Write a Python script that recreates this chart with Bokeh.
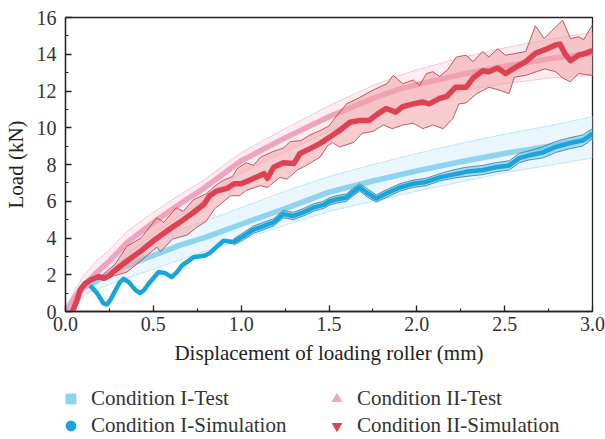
from bokeh.plotting import figure
from bokeh.layouts import column
from bokeh.models import Range1d, SingleIntervalTicker, Legend, LegendItem, NumeralTickFormatter, ColumnDataSource
from bokeh.embed import file_html
from bokeh.resources import INLINE

# ---------------- data ----------------
# Condition I - Test (mean curve and band)
test1_x = [0, 0.05, 0.1, 0.2, 0.35, 0.5, 0.65, 0.8, 1.0, 1.25, 1.5, 1.75, 2.0, 2.25, 2.5, 2.75, 3.0]
test1_y = [0, 0.7, 1.25, 1.8, 2.5, 3.05, 3.6, 4.05, 4.75, 5.6, 6.5, 7.1, 7.65, 8.15, 8.6, 9.0, 9.45]
test1_hi = [0, 0.9, 1.6, 2.5, 3.3, 3.9, 4.45, 4.95, 5.65, 6.55, 7.35, 8.0, 8.6, 9.15, 9.65, 10.1, 10.6]
test1_lo = [0, 0.5, 0.9, 1.3, 1.8, 2.3, 2.8, 3.3, 3.9, 4.7, 5.45, 6.0, 6.55, 7.05, 7.55, 7.95, 8.35]

# Condition II - Test
test2_x = [0, 0.05, 0.1, 0.17, 0.25, 0.35, 0.5, 0.65, 0.78, 1.0, 1.25, 1.5, 1.75, 1.9, 2.0, 2.25, 2.5, 2.75, 3.0]
test2_y = [0, 0.75, 1.35, 2.05, 2.75, 3.75, 4.85, 5.85, 6.65, 8.2, 9.45, 10.6, 11.6, 12.1, 12.35, 12.9, 13.35, 13.75, 14.05]
test2_hi = [0, 1.1, 1.9, 2.7, 3.35, 4.35, 5.4, 6.35, 7.1, 8.65, 9.95, 11.2, 12.3, 12.85, 13.15, 13.8, 14.35, 14.8, 15.2]
test2_lo = [0, 0.4, 0.8, 1.4, 2.1, 3.1, 4.2, 5.2, 6.0, 7.55, 8.7, 9.8, 10.7, 11.2, 11.5, 12.0, 12.4, 12.7, 12.85]

# Condition I - Simulation
sim1_x = [0.14, 0.18, 0.215, 0.236, 0.26, 0.284, 0.31, 0.331, 0.36, 0.4, 0.425, 0.45, 0.472, 0.53, 0.565,
          0.605, 0.635, 0.662, 0.728, 0.794, 0.824, 0.87, 0.9, 0.957, 1.013, 1.07, 1.127, 1.184, 1.24, 1.297,
          1.354, 1.41, 1.467, 1.505, 1.543, 1.6, 1.637, 1.675, 1.722, 1.77, 1.826, 1.902, 1.978, 2.053, 2.129,
          2.205, 2.28, 2.375, 2.45, 2.526, 2.583, 2.639, 2.715, 2.79, 2.866, 2.942, 2.975, 3.0]
sim1_y = [1.42, 1.0, 0.45, 0.38, 0.7, 1.15, 1.6, 1.78, 1.6, 1.15, 1.0, 1.2, 1.5, 2.15, 2.1,
          1.87, 2.15, 2.5, 2.95, 3.05, 3.2, 3.6, 3.85, 3.78, 4.1, 4.45, 4.65, 4.85, 5.3, 5.2,
          5.4, 5.65, 5.8, 6.0, 6.1, 6.2, 6.5, 6.75, 6.42, 6.15, 6.42, 6.75, 6.95, 7.05, 7.3,
          7.45, 7.6, 7.7, 7.85, 7.95, 8.35, 8.5, 8.65, 8.95, 9.15, 9.3, 9.5, 9.7]
sim1b_x = [0.957, 1.013, 1.07, 1.127, 1.184, 1.24, 1.297, 1.354, 1.41, 1.467, 1.505, 1.543, 1.6, 1.637, 1.675,
           1.722, 1.77, 1.826, 1.902, 1.978, 2.053, 2.129, 2.205, 2.28, 2.375, 2.45, 2.526, 2.583, 2.639, 2.715,
           2.79, 2.866, 2.942, 2.975, 3.0]
sim1b_hi = [3.95, 4.3, 4.65, 4.85, 5.05, 5.5, 5.4, 5.6, 5.85, 6.0, 6.2, 6.3, 6.4, 6.7, 6.95,
            6.65, 6.35, 6.62, 6.95, 7.15, 7.25, 7.5, 7.7, 7.85, 7.95, 8.1, 8.2, 8.6, 8.75, 8.95,
            9.25, 9.45, 9.6, 9.8, 9.95]
sim1b_lo = [3.6, 3.9, 4.25, 4.45, 4.65, 5.1, 5.0, 5.2, 5.45, 5.6, 5.8, 5.9, 6.0, 6.3, 6.55,
            6.2, 5.95, 6.2, 6.55, 6.75, 6.85, 7.1, 7.25, 7.35, 7.45, 7.6, 7.7, 8.1, 8.25, 8.35,
            8.65, 8.85, 9.0, 9.2, 9.45]

# Condition II - Simulation
sim2_x = [0.04, 0.065, 0.085, 0.11, 0.14, 0.19, 0.22, 0.25, 0.27, 0.35, 0.43, 0.5, 0.58, 0.65, 0.73, 0.79,
          0.82, 0.86, 0.92, 0.96, 1.0, 1.05, 1.13, 1.15, 1.185, 1.24, 1.3, 1.335, 1.39, 1.45, 1.505, 1.56,
          1.62, 1.675, 1.73, 1.77, 1.825, 1.88, 1.92, 1.98, 2.035, 2.07, 2.13, 2.17, 2.22, 2.28, 2.32, 2.375,
          2.41, 2.46, 2.505, 2.565, 2.62, 2.675, 2.73, 2.79, 2.815, 2.845, 2.875, 2.92, 2.96, 3.0]
sim2_y = [0.0, 0.6, 1.2, 1.5, 1.7, 1.9, 1.8, 1.95, 2.15, 2.75, 3.3, 3.85, 4.4, 4.85, 5.4, 5.85,
          6.3, 6.55, 6.7, 6.95, 6.95, 7.15, 7.5, 7.25, 7.85, 8.1, 8.05, 8.6, 8.85, 9.15, 9.5, 9.85,
          10.3, 10.4, 10.4, 10.7, 11.05, 10.85, 11.15, 11.3, 11.4, 11.3, 11.6, 11.7, 12.2, 12.2, 12.7, 13.1,
          13.05, 13.25, 12.95, 13.3, 13.6, 14.05, 14.25, 14.5, 14.55, 14.0, 13.65, 13.95, 14.05, 14.2]
sim2_hi_x = [0.2, 0.28, 0.35, 0.43, 0.52, 0.56, 0.63, 0.67, 0.73, 0.8, 0.86, 0.9, 0.95, 0.98, 1.03, 1.07,
             1.11, 1.18, 1.24, 1.28, 1.34, 1.39, 1.45, 1.5, 1.54, 1.6, 1.675, 1.75, 1.83, 1.865, 1.92, 1.98,
             2.015, 2.055, 2.09, 2.13, 2.175, 2.225, 2.28, 2.32, 2.375, 2.41, 2.46, 2.505, 2.565, 2.62, 2.675,
             2.725, 2.77, 2.83, 2.875, 2.92, 2.95, 3.0]
sim2_hi_y = [1.9, 2.55, 3.55, 4.0, 5.1, 4.85, 5.65, 5.45, 6.1, 6.4, 6.9, 7.15, 7.35, 7.8, 8.1, 7.95,
             8.4, 8.7, 8.9, 9.25, 9.3, 9.6, 9.85, 10.1, 10.6, 11.3, 11.65, 12.05, 12.4, 12.85, 12.4, 12.6,
             12.3, 12.95, 13.05, 12.8, 13.15, 13.85, 13.95, 13.6, 14.15, 13.85, 14.3, 13.95, 14.05, 14.15, 15.55,
             14.85, 15.3, 15.85, 14.85, 14.95, 14.8, 15.6]
sim2_lo_x = [0.2, 0.28, 0.35, 0.44, 0.52, 0.54, 0.61, 0.69, 0.75, 0.8, 0.85, 0.94, 0.99, 1.03, 1.11, 1.15,
             1.22, 1.26, 1.32, 1.37, 1.45, 1.49, 1.52, 1.56, 1.64, 1.69, 1.75, 1.81, 1.86, 1.92, 1.98, 2.035,
             2.09, 2.15, 2.205, 2.24, 2.28, 2.34, 2.41, 2.47, 2.525, 2.555, 2.62, 2.68, 2.73, 2.79, 2.83,
             2.875, 2.92, 2.96, 3.0]
sim2_lo_y = [1.8, 1.95, 2.15, 2.85, 3.5, 3.25, 3.95, 4.15, 4.6, 4.9, 5.6, 6.3, 6.3, 6.6, 6.85, 6.75,
             7.3, 7.2, 7.7, 7.95, 8.4, 9.0, 9.2, 8.95, 9.2, 9.7, 9.8, 10.15, 9.95, 10.15, 10.25, 9.95,
             10.15, 9.95, 10.5, 11.3, 11.35, 11.85, 12.2, 12.05, 11.85, 12.75, 12.85, 13.05, 13.2, 13.05, 12.7,
             12.5, 12.95, 12.9, 12.85]

series_labels = ["Condition I-Test", "Condition I-Simulation", "Condition II-Test", "Condition II-Simulation"]
x_label = "Displacement of loading roller (mm)"
y_label = "Load (kN)"

C_T1 = "#8ED3F0"
C_S1 = "#18A5DC"
C_T2 = "#F0A3BD"
C_S2 = "#DC4252"
FONT = "Liberation Serif"

p = figure(width=605, height=381, x_range=Range1d(0, 3), y_range=Range1d(0, 16),
           output_backend="svg", toolbar_location=None,
           min_border_left=63, min_border_right=13, min_border_top=17, min_border_bottom=70)
p.grid.visible = False
p.outline_line_color = "#222222"
p.outline_line_width = 1.3
p.background_fill_color = "white"
p.border_fill_color = "white"

# bands - Test curves
p.patch(test1_x + test1_x[::-1], test1_hi + test1_lo[::-1], fill_color="#E3F4FC", fill_alpha=0.8, line_color=None)
p.line(test1_x, test1_hi, line_color="#BFE6F7", line_width=1)
p.line(test1_x, test1_lo, line_color="#BFE6F7", line_width=1)
p.patch(test2_x + test2_x[::-1], test2_hi + test2_lo[::-1], fill_color="#FCE4EB", fill_alpha=0.7, line_color=None)
p.line(test2_x, test2_hi, line_color="#F6C6D4", line_width=1)
p.line(test2_x, test2_lo, line_color="#F6C6D4", line_width=1)

# test mean lines
p.line(test1_x, test1_y, line_color=C_T1, line_width=5.5, line_join="round")
p.line(test2_x, test2_y, line_color=C_T2, line_width=5.5, line_join="round")

# simulation bands
p.patch(sim1b_x + sim1b_x[::-1], sim1b_hi + sim1b_lo[::-1], fill_color="#7FC6E6", fill_alpha=0.6, line_color=None)
p.line(sim1b_x, sim1b_hi, line_color="#3D7890", line_width=0.8)
p.line(sim1b_x, sim1b_lo, line_color="#3D7890", line_width=0.8)
p.patch(sim2_hi_x + sim2_lo_x[::-1], sim2_hi_y + sim2_lo_y[::-1], fill_color="#F0A3A8", fill_alpha=0.55, line_color=None)
p.line(sim2_hi_x, sim2_hi_y, line_color="#A83A46", line_width=0.8, line_join="round")
p.line(sim2_lo_x, sim2_lo_y, line_color="#A83A46", line_width=0.8, line_join="round")

# simulation lines
p.line(sim1_x, sim1_y, line_color=C_S1, line_width=4.5, line_join="round")
p.line(sim2_x, sim2_y, line_color=C_S2, line_width=5.5, line_join="round")

# axes
for ax in (p.xaxis[0], p.yaxis[0]):
    ax.axis_line_width = 1.3
    ax.axis_line_color = "#222222"
    ax.major_tick_in = 6
    ax.major_tick_out = 0
    ax.minor_tick_in = 3
    ax.minor_tick_out = 0
    ax.major_tick_line_color = "#222222"
    ax.minor_tick_line_color = "#222222"
    ax.major_tick_line_width = 1.3
    ax.minor_tick_line_width = 1.1
    ax.major_label_text_font = FONT
    ax.major_label_text_font_size = "20px"
    ax.major_label_text_color = "#333333"
    ax.axis_label_text_font = FONT
    ax.axis_label_text_font_size = "21px"
    ax.axis_label_text_font_style = "normal"
    ax.axis_label_text_color = "#222222"

p.xaxis.ticker = SingleIntervalTicker(interval=0.5, num_minor_ticks=2)
p.yaxis.ticker = SingleIntervalTicker(interval=2, num_minor_ticks=2)
p.xaxis.formatter = NumeralTickFormatter(format="0.0")
p.xaxis.axis_label = x_label
p.yaxis.axis_label = y_label
p.xaxis.major_label_standoff = 5
p.xaxis.axis_label_standoff = 7
p.yaxis.major_label_standoff = 9
p.yaxis.axis_label_standoff = 6

# ---------------- legend strip below the chart ----------------
lg = figure(width=605, height=58, output_backend="svg", toolbar_location=None,
            x_axis_type=None, y_axis_type=None, x_range=Range1d(0, 1), y_range=Range1d(0, 1),
            min_border_left=0, min_border_right=0, min_border_top=0, min_border_bottom=0)
lg.grid.visible = False
lg.outline_line_color = None
lg.background_fill_color = "white"
lg.border_fill_color = "white"

# legend proxies (a single NaN point each: nothing is drawn)
nan = float("nan")
src = ColumnDataSource(data=dict(x=[nan], y=[nan]))
r1 = lg.scatter("x", "y", source=src, marker="square", fill_color=C_T1, line_color=None)
r2 = lg.scatter("x", "y", source=src, marker="circle", fill_color=C_S1, line_color=None)
r3 = lg.scatter("x", "y", source=src, marker="triangle", fill_color=C_T2, line_color=None)
r4 = lg.scatter("x", "y", source=src, marker="inverted_triangle", fill_color=C_S2, line_color=None)

legend = Legend(items=[LegendItem(label=series_labels[0], renderers=[r1]),
                       LegendItem(label=series_labels[1], renderers=[r2]),
                       LegendItem(label=series_labels[2], renderers=[r3]),
                       LegendItem(label=series_labels[3], renderers=[r4])],
                ncols=2, orientation="vertical", location=(-8, 0),
                glyph_width=27, glyph_height=27, label_standoff=7, label_width=232,
                spacing=-1, padding=0, margin=0,
                label_text_font=FONT, label_text_font_size="21px", label_text_color="#333333",
                background_fill_alpha=0, border_line_color=None)
lg.add_layout(legend, "center")

layout = column(p, lg, spacing=0)
open("out.html", "w").write(file_html(layout, INLINE))
